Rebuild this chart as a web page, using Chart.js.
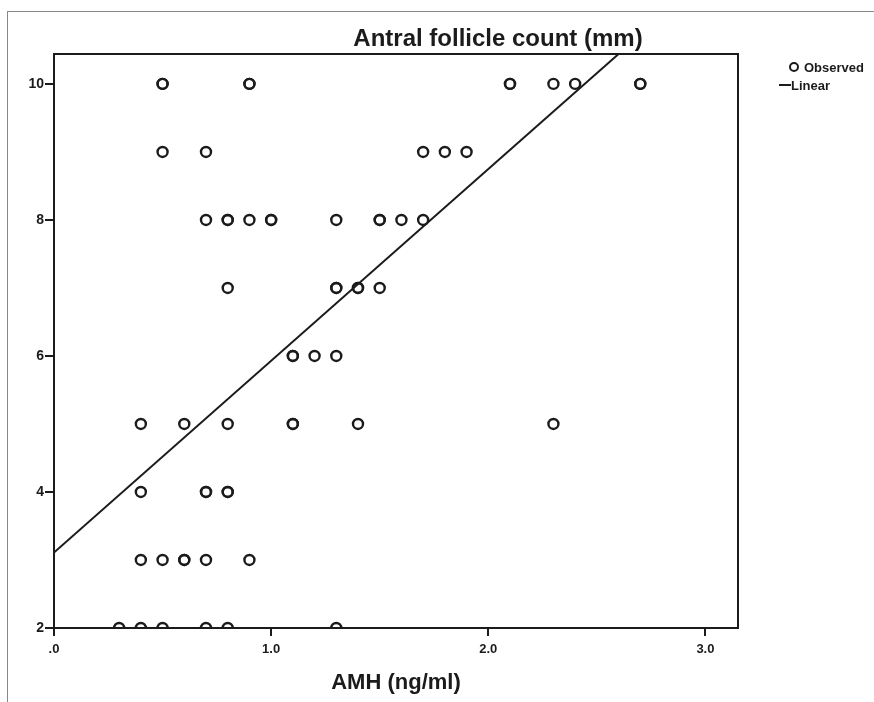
<!DOCTYPE html>
<html lang="en">
<head>
<meta charset="UTF-8">
<title>Antral follicle count vs AMH</title>
<script src="https://cdn.jsdelivr.net/npm/chart.js"></script>
<style>
  html, body { margin: 0; padding: 0; background: #fff; }
  #wrap { position: relative; width: 874px; height: 702px; overflow: hidden; }
  #frame { position: absolute; left: 7px; top: 11px; right: -5px; bottom: -5px;
           border-left: 1px solid #888; border-top: 1px solid #888; }
  canvas { position: absolute; left: 0; top: 0; }
</style>
</head>
<body>
<div id="wrap">
  <div id="frame"></div>
  <canvas id="chart" width="874" height="702"></canvas>
</div>
<script>
// AMH values (ng/ml) observed at each antral follicle count
// (repeated values = overlapping circles in the original)
var amhAt10 = [0.5, 0.5, 0.9, 0.9, 2.1, 2.1, 2.3, 2.4, 2.7, 2.7];
var amhAt9 = [0.5, 0.7, 1.7, 1.8, 1.9];
var amhAt8 = [0.7, 0.8, 0.8, 0.9, 1.0, 1.0, 1.3, 1.5, 1.5, 1.6, 1.7];
var amhAt7 = [0.8, 1.3, 1.3, 1.4, 1.4, 1.5];
var amhAt6 = [1.1, 1.1, 1.2, 1.3];
var amhAt5 = [0.4, 0.6, 0.8, 1.1, 1.1, 1.4, 2.3];
var amhAt4 = [0.4, 0.7, 0.7, 0.8, 0.8];
var amhAt3 = [0.4, 0.5, 0.6, 0.6, 0.7, 0.9];
var amhAt2 = [0.3, 0.4, 0.5, 0.7, 0.8, 1.3];

// fitted linear line (end points)
var fitAmh = [0, 2.6];
var fitCount = [3.11, 10.44];

// axes
var xTickValues = [0, 1, 2, 3];
var xTickLabels = [".0", "1.0", "2.0", "3.0"];
var yTickValues = [2, 4, 6, 8, 10];

var groups = [
    [10, amhAt10], [9, amhAt9], [8, amhAt8], [7, amhAt7], [6, amhAt6],
    [5, amhAt5], [4, amhAt4], [3, amhAt3], [2, amhAt2]
];
var observed = [];
groups.forEach(function (g) {
    g[1].forEach(function (a) { observed.push({ x: a, y: g[0] }); });
});
var linear = fitAmh.map(function (a, i) { return { x: a, y: fitCount[i] }; });

var ink = "#1b1b1b";
var fontFamily = "'Liberation Sans', Arial, sans-serif";
Chart.defaults.font.family = fontFamily;
Chart.defaults.color = ink;

// plot box, title and legend as in the SPSS output
var decorations = {
    id: "decorations",
    beforeDatasetsDraw: function (chart) {
        var a = chart.chartArea, ctx = chart.ctx;
        ctx.save();
        ctx.strokeStyle = ink;
        ctx.lineWidth = 2;
        ctx.strokeRect(a.left, a.top, a.right - a.left, a.bottom - a.top);
        ctx.restore();
    },
    afterDraw: function (chart) {
        var ctx = chart.ctx;
        ctx.save();
        ctx.fillStyle = ink;
        ctx.strokeStyle = ink;
        ctx.textBaseline = "middle";
        ctx.textAlign = "center";
        ctx.font = "bold 24px " + fontFamily;
        ctx.fillText("Antral follicle count (mm)", 498, 39);

        // legend
        ctx.textAlign = "left";
        ctx.font = "bold 13px " + fontFamily;
        ctx.lineWidth = 2;
        ctx.beginPath();
        ctx.arc(794, 67, 4, 0, Math.PI * 2);
        ctx.stroke();
        ctx.fillText("Observed", 804, 68);
        ctx.beginPath();
        ctx.moveTo(779, 85);
        ctx.lineTo(791, 85);
        ctx.stroke();
        ctx.fillText("Linear", 791, 86);
        ctx.restore();
    }
};

var ctx = document.getElementById("chart").getContext("2d");
new Chart(ctx, {
    type: "scatter",
    data: {
        datasets: [
            {
                label: "Linear",
                type: "line",
                data: linear,
                borderColor: ink,
                borderWidth: 2,
                pointRadius: 0,
                fill: false,
                clip: 0
            },
            {
                label: "Observed",
                data: observed,
                pointStyle: "circle",
                pointRadius: 5,
                pointBorderWidth: 2.4,
                borderColor: ink,
                backgroundColor: "rgba(0,0,0,0)",
                clip: 0
            }
        ]
    },
    plugins: [decorations],
    options: {
        responsive: false,
        animation: false,
        layout: { padding: { top: 54, right: 136, bottom: 0, left: 0 } },
        plugins: {
            legend: { display: false },
            title: { display: false },
            tooltip: { enabled: false }
        },
        scales: {
            x: {
                type: "linear",
                min: 0,
                max: 3.15,
                afterBuildTicks: function (scale) {
                    scale.ticks = xTickValues.map(function (v) { return { value: v }; });
                },
                afterFit: function (scale) { scale.height = 74; },
                ticks: {
                    font: { size: 13, weight: "bold" },
                    color: ink,
                    padding: 6,
                    maxRotation: 0,
                    callback: function (v) {
                        var i = xTickValues.indexOf(v);
                        return i >= 0 ? xTickLabels[i] : "";
                    }
                },
                grid: {
                    drawOnChartArea: false,
                    color: ink,
                    lineWidth: 2,
                    tickLength: 8
                },
                border: { color: ink, width: 2 },
                title: {
                    display: true,
                    text: "AMH (ng/ml)",
                    color: ink,
                    font: { size: 22, weight: "bold" },
                    padding: { top: 0, bottom: 6 }
                }
            },
            y: {
                type: "linear",
                min: 2,
                max: 10.44,
                afterBuildTicks: function (scale) {
                    scale.ticks = yTickValues.map(function (v) { return { value: v }; });
                },
                afterFit: function (scale) { scale.width = 54; },
                ticks: {
                    font: { size: 14, weight: "bold" },
                    color: ink,
                    padding: 1
                },
                grid: {
                    drawOnChartArea: false,
                    color: ink,
                    lineWidth: 2,
                    tickLength: 9
                },
                border: { color: ink, width: 2 }
            }
        }
    }
});
</script>
</body>
</html>
